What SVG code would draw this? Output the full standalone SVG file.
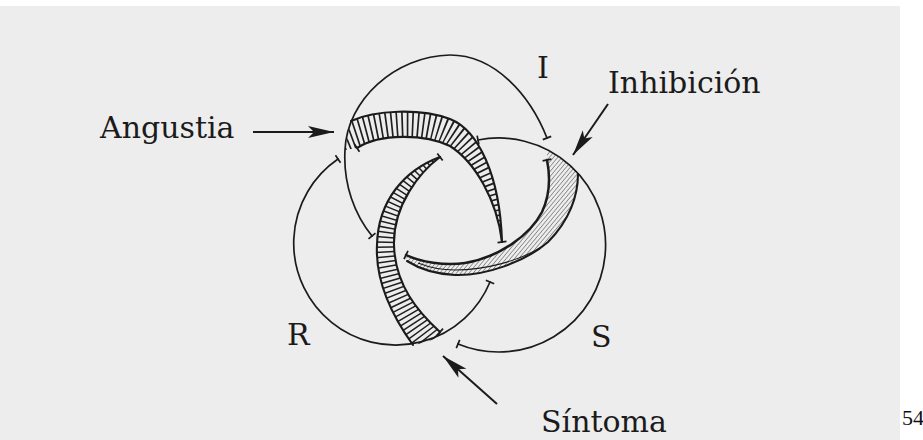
<svg xmlns="http://www.w3.org/2000/svg" width="923" height="440" viewBox="0 0 923 440">
<style>
.ring{fill:none;stroke:#1b1b1b;stroke-width:1.7;stroke-linecap:round}
.edge{fill:none;stroke:#1b1b1b;stroke-width:2.1;stroke-linecap:round}
.hatch{fill:none;stroke:#1f1f1f;stroke-width:44}
.lbl{font-family:"DejaVu Serif","Liberation Serif",serif;font-size:30px;fill:#1b1b1b}
.pg{font-family:"Liberation Serif","Times New Roman",serif;font-size:22px;fill:#111}
.arr{stroke:#1b1b1b;stroke-width:2;fill:none}
</style>
<defs>
<marker id="bar" viewBox="-6 -6 12 12" markerWidth="12" markerHeight="12" refX="0" refY="0" orient="auto" markerUnits="userSpaceOnUse">
<path d="M0,-4.5 V4.5" stroke="#1b1b1b" stroke-width="1.7"/>
</marker>
<marker id="ah" viewBox="-28 -7 30 14" markerWidth="30" markerHeight="14" refX="0" refY="0" orient="auto" markerUnits="userSpaceOnUse">
<path d="M0,0 L-26,-6 L-20,0 L-26,6 Z" fill="#1b1b1b"/>
</marker>
<pattern id="hatchI" width="3.2" height="3.2" patternUnits="userSpaceOnUse" patternTransform="rotate(40)">
<line x1="0" y1="-1" x2="0" y2="4.2" stroke="#444" stroke-width="1"/>
</pattern>
<clipPath id="clipA">
<path d="M351,121 C375,110 420,108 450,119 C478,130 500,175 502,242 C497,200 475,162 450,146 C425,134 380,133 357,148 L345,150 Z"/>
</clipPath>
<clipPath id="clipS">
<path d="M440,157 C405,170 378,200 377,245 C375,285 395,320 413,345 A102,102 0 0 0 441,336 L440,332 C418,312 395,285 394,245 C393,205 420,172 440,157 Z"/>
</clipPath>
</defs>
<rect width="923" height="440" fill="#ffffff"/>
<rect x="0" y="6" width="900" height="434" fill="#ededed"/>

<g id="band-angustia">
<path class="hatch" d="M335,140 C375,120 425,118 450,132 C478,148 498,190 503,250" stroke-dasharray="1.7 3.6" clip-path="url(#clipA)"/>
<path class="edge" d="M351,121 C375,110 420,108 450,119 C478,130 500,175 502,242"/>
<path class="edge" d="M502,242 C497,200 475,162 450,146 C425,134 380,133 357,148" marker-start="url(#bar)" marker-end="url(#bar)"/>
</g>

<g id="band-inhibicion">
<path d="M578,174 C578,195 570,220 548,242 C525,262 485,276 455,275 C435,274 418,268 407,261 L406,255 C420,262 445,266 465,263 C500,257 530,235 542,212 C550,195 550,175 547,160 L547,150 A107,107 0 0 1 578,174 Z" fill="url(#hatchI)"/>
<path class="edge" d="M578,174 C578,195 570,220 548,242 C525,262 485,276 455,275 C435,274 418,268 407,261"/>
<path d="M543,246 C520,261 485,270 455,270 C440,270 428,267 418,263" fill="none" stroke="#1b1b1b" stroke-width="1.1"/>
<path class="edge" style="stroke-width:2.5" d="M406,255 C420,262 445,266 465,263 C500,257 530,235 542,212 C550,195 550,175 547,160" marker-start="url(#bar)" marker-end="url(#bar)"/>
</g>

<g id="band-sintoma">
<path class="hatch" d="M448,148 C410,170 385,205 385,245 C385,285 405,322 432,352" stroke-dasharray="1.5 3.4" clip-path="url(#clipS)"/>
<path class="edge" d="M440,157 C405,170 378,200 377,245 C375,285 395,320 413,345"/>
<path class="edge" d="M440,332 C418,312 395,285 394,245 C393,205 420,172 440,157" marker-start="url(#bar)" marker-end="url(#bar)"/>
</g>

<g id="ring-I">
<path class="ring" d="M372,236 C355,215 343,185 345,150 C347,100 395,56 450,55 C495,55 530,95 547,138" marker-start="url(#bar)" marker-end="url(#bar)"/>
</g>
<g id="ring-R">
<path class="ring" d="M338,159 A102,102 0 1 0 490,282" marker-start="url(#bar)" marker-end="url(#bar)"/>
</g>
<g id="ring-S">
<path class="ring" d="M478,140 A107,107 0 1 1 458,344" marker-start="url(#bar)" marker-end="url(#bar)"/>
</g>

<g id="connectors">
<line class="arr" x1="253" y1="132" x2="334" y2="132" marker-end="url(#ah)"/>
<line class="arr" x1="608" y1="104" x2="573" y2="155" marker-end="url(#ah)"/>
<line class="arr" x1="497" y1="404" x2="443" y2="356" marker-end="url(#ah)"/>
</g>

<g id="label-angustia"><text class="lbl" x="100" y="138">Angustia</text></g>
<g id="label-I"><text class="lbl" x="537" y="78">I</text></g>
<g id="label-inhibicion"><text class="lbl" x="608" y="93">Inhibición</text></g>
<g id="label-R"><text class="lbl" x="287" y="345">R</text></g>
<g id="label-S"><text class="lbl" x="591" y="347">S</text></g>
<g id="label-sintoma"><text class="lbl" x="541" y="432">Síntoma</text></g>
<g id="page-number"><text class="pg" x="902" y="425">54</text></g>
</svg>
